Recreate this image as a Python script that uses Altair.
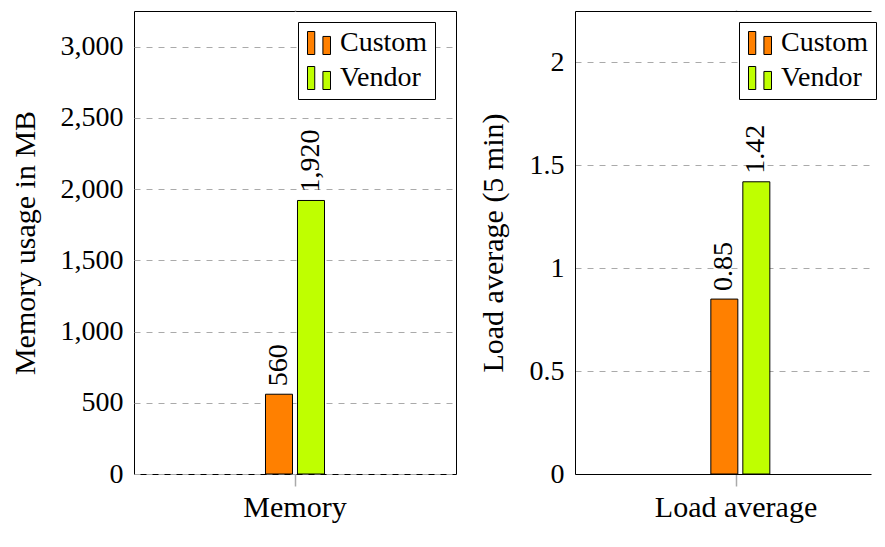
import altair as alt
import pandas as pd

FONT = "Liberation Serif"

series = ["Custom", "Vendor"]
colors = ["#FF8000", "#BFFF00"]

mem_category = ["Memory"]
mem_values = [560, 1920]
mem_ticks = [0, 500, 1000, 1500, 2000, 2500, 3000]
mem_max = 3250

load_category = ["Load average"]
load_values = [0.85, 1.42]
load_ticks = [0, 0.5, 1, 1.5, 2]
load_max = 2.25

LEGEND_PATH = "M-1,-1H-0.37V1H-1Z M0.34,-0.57H1V1H0.34Z"


def panel(category, values, ticks, ymax, ytitle, yfmt, tfmt, extent, width,
          align, opad, framed):
    df = pd.DataFrame({"metric": category * len(series), "series": series, "value": values})
    base = alt.Chart(df)
    xscale = alt.Scale(paddingInner=0, paddingOuter=1, align=align)
    oscale = alt.Scale(paddingInner=0.156, paddingOuter=opad)
    dom = not framed
    yenc = alt.Y(
        "value:Q",
        scale=alt.Scale(domain=[0, ymax], nice=False, zero=True),
        axis=alt.Axis(
            values=ticks, format=yfmt, title=ytitle, grid=True, gridDash=[6, 6],
            gridColor="#aaaaaa", gridWidth=1, ticks=False,
            domain=dom, domainColor="black", domainWidth=1,
            labelFont=FONT, labelFontSize=28, labelColor="black", labelPadding=11,
            titleFont=FONT, titleFontSize=30, titleFontWeight="normal", titleColor="black",
            titlePadding=21, minExtent=extent, maxExtent=extent,
        ),
    )
    bars = base.mark_bar(stroke="black", strokeWidth=1, opacity=1).encode(
        x=alt.X("metric:N", scale=xscale, axis=alt.Axis(
            orient="bottom", title=None, labelAngle=0, grid=False,
            domain=dom, domainColor="black", domainWidth=1,
            ticks=True, tickSize=12, tickColor="#aaaaaa", tickWidth=1.5,
            labelFont=FONT, labelFontSize=30, labelColor="black", labelPadding=6)),
        xOffset=alt.XOffset("series:N", scale=oscale, sort=series),
        y=yenc,
        color=alt.Color("series:N", sort=series,
                        scale=alt.Scale(domain=series, range=colors),
                        legend=alt.Legend(
                            orient="none", legendX=164, legendY=11, title=None,
                            fillColor="white", strokeColor="black", padding=7,
                            symbolType=LEGEND_PATH, symbolSize=529,
                            symbolStrokeColor="black", symbolStrokeWidth=1,
                            symbolOpacity=1, labelFont=FONT, labelFontSize=28,
                            labelColor="black", labelOffset=7, rowPadding=7,
                            cornerRadius=0)),
    )
    labels = base.mark_text(angle=270, align="left", baseline="middle", dx=8,
                            font=FONT, fontSize=28, color="black").encode(
        x=alt.X("metric:N", scale=xscale, axis=alt.Axis(
            orient="top", title=None, labels=False, grid=False,
            domain=dom, domainColor="black", domainWidth=1,
            ticks=True, tickSize=1, tickColor="#aaaaaa", tickWidth=1.5)),
        xOffset=alt.XOffset("series:N", scale=oscale, sort=series),
        y=alt.Y("value:Q"),
        text=alt.Text("value:Q", format=tfmt),
    )
    view = alt.ViewBackground(stroke="black", strokeWidth=1) if framed else \
        alt.ViewBackground(stroke="transparent", strokeWidth=0)
    return alt.layer(bars, labels).resolve_axis(x="independent").properties(
        width=width, height=463, view=view)


left = panel(mem_category, mem_values, mem_ticks, mem_max, "Memory usage in MB",
             ",d", ",d", 73, 322, 0.5, 0.755, True)
right = panel(load_category, load_values, load_ticks, load_max, "Load average (5 min)",
              "~g", ".2f", 46, 296, 0.5659, 0.620, False)

chart = alt.hconcat(left, right, spacing=21).resolve_legend(color="independent").properties(
    padding={"left": 1, "top": 0, "right": 0, "bottom": 0}
)

chart.save("out.html", embed_options={"renderer": "svg", "actions": False})
